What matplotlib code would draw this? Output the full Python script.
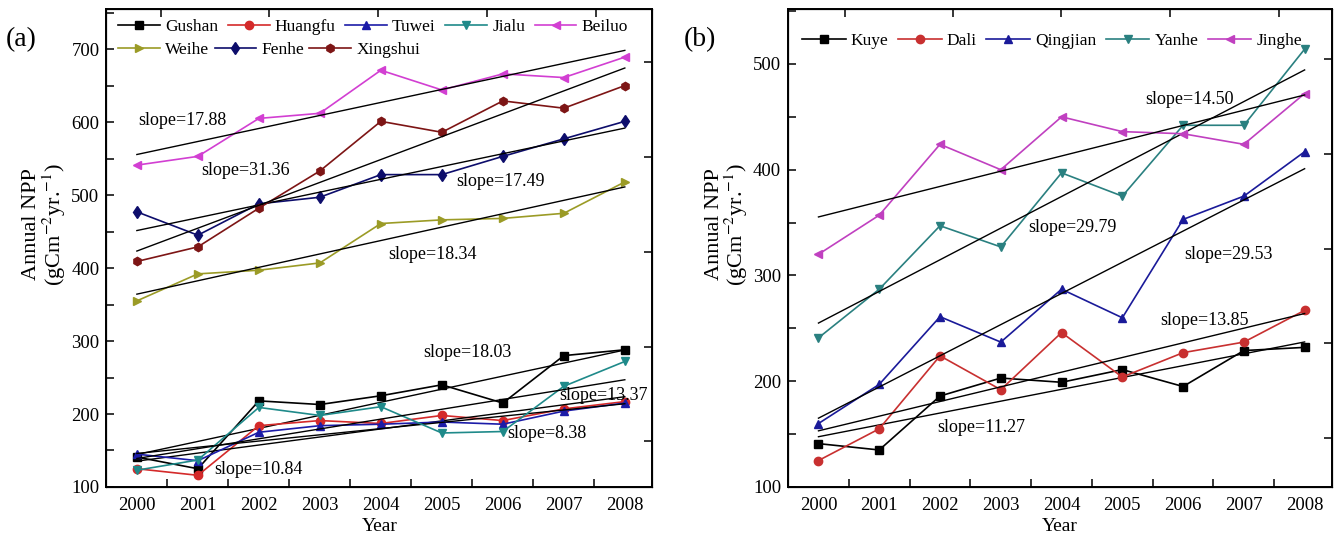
import numpy as np
import matplotlib
matplotlib.use('Agg')
import matplotlib.pyplot as plt
from matplotlib.ticker import MultipleLocator, NullFormatter

plt.rcParams['font.family'] = ['Liberation Serif', 'DejaVu Serif']
plt.rcParams['mathtext.fontset'] = 'stix'

years = np.arange(2000, 2009)

# (a) panel data
left_names = ['Gushan', 'Huangfu', 'Tuwei', 'Jialu', 'Beiluo', 'Weihe', 'Fenhe', 'Xingshui']
gushan = [141, 125, 218, 213, 225, 240, 215, 280, 288]
huangfu = [125, 116, 184, 191, 187, 198, 191, 207, 217]
tuwei = [145, 136, 175, 184, 186, 189, 186, 204, 215]
jialu = [123, 137, 209, 198, 210, 174, 176, 238, 272]
beiluo = [541, 553, 605, 612, 671, 644, 666, 661, 689]
weihe = [355, 392, 397, 407, 461, 466, 468, 475, 518]
fenhe = [477, 445, 488, 497, 528, 528, 553, 577, 601]
xingshui = [409, 429, 482, 533, 601, 586, 629, 619, 650]
left_values = [gushan, huangfu, tuwei, jialu, beiluo, weihe, fenhe, xingshui]
left_colors = ['black', '#d42a2a', '#1c1ca8', '#1f8a8a', '#d23fd2', '#9b9b26', '#0d0d6b', '#7d1515']
left_markers = ['s', 'o', '^', 'v', '<', '>', 'd', 'h']
left_slopes = ['slope=17.88', 'slope=31.36', 'slope=17.49', 'slope=18.34',
               'slope=18.03', 'slope=13.37', 'slope=8.38', 'slope=10.84']
left_slope_pos = [(2000.02, 602), (2001.06, 533), (2005.23, 519), (2004.12, 419),
                  (2004.69, 284), (2006.92, 226), (2006.07, 173), (2001.27, 124)]

# (b) panel data
right_names = ['Kuye', 'Dali', 'Qingjian', 'Yanhe', 'Jinghe']
kuye = [141, 135, 186, 203, 199, 211, 195, 229, 232]
dali = [125, 155, 224, 192, 246, 204, 227, 237, 267]
qingjian = [160, 197, 261, 237, 287, 260, 353, 375, 417]
yanhe = [241, 287, 347, 327, 397, 375, 442, 442, 514]
jinghe = [320, 357, 424, 400, 450, 436, 434, 424, 472]
right_values = [kuye, dali, qingjian, yanhe, jinghe]
right_colors = ['black', '#c83030', '#1a1a99', '#2a8080', '#c040c0']
right_markers = ['s', 'o', '^', 'v', '<']
right_slopes = ['slope=14.50', 'slope=29.79', 'slope=29.53', 'slope=13.85', 'slope=11.27']
right_slope_pos = [(2005.38, 466), (2003.45, 345), (2006.02, 320), (2005.62, 257), (2001.95, 156)]

fig = plt.figure(figsize=(13.38, 5.42), dpi=100)
ax1 = fig.add_axes([0.0795, 0.1015, 0.4080, 0.8820])
ax2 = fig.add_axes([0.5890, 0.1015, 0.4065, 0.8820])


def draw_panel(ax, names, values, colors, markers):
    handles = []
    for name, v, c, m in zip(names, values, colors, markers):
        v = np.array(v, dtype=float)
        h, = ax.plot(years, v, color=c, marker=m, markersize=6, lw=1.2, label=name)
        handles.append(h)
        k, b = np.polyfit(years, v, 1)
        ax.plot(years, k * years + b, color='black', lw=1.0)
    return handles


def style_axes(ax, ylim, top_ticks, right_ticks):
    ax.set_xlim(1999.5, 2008.45)
    ax.set_ylim(*ylim)
    ax.set_xticks(years)
    ax.set_xticklabels([str(y) for y in years])
    ax.xaxis.set_minor_locator(MultipleLocator(1, offset=0.5))
    ax.yaxis.set_major_locator(MultipleLocator(100))
    ax.yaxis.set_minor_locator(MultipleLocator(50))
    ax.tick_params(axis='x', which='major', length=0, pad=7, labelsize=13.5)
    ax.tick_params(axis='x', which='minor', direction='in', length=6, width=1.1)
    ax.tick_params(axis='y', which='both', direction='in', length=6, width=1.1, labelsize=13.5, pad=5)
    for s in ax.spines.values():
        s.set_linewidth(1.4)
    ax.set_xlabel('Year', fontsize=14, labelpad=3)
    ax.set_ylabel('Annual NPP\n(gCm$^{-2}$yr.$^{-1}$)', fontsize=16, linespacing=0.95)
    # Origin-style linked top / right axes
    axt = ax.twiny()
    axt.set_xlim(ax.get_xlim())
    axt.set_xticks(top_ticks)
    axt.xaxis.set_major_formatter(NullFormatter())
    axt.tick_params(axis='x', direction='in', length=6, width=1.1)
    axr = ax.twinx()
    axr.set_ylim(ax.get_ylim())
    axr.set_yticks(right_ticks)
    axr.yaxis.set_major_formatter(NullFormatter())
    axr.tick_params(axis='y', direction='in', length=6, width=1.1)


# panel (a)
h1 = draw_panel(ax1, left_names, left_values, left_colors, left_markers)
style_axes(ax1, (100, 755), [2000.39, 2002.17, 2003.96, 2005.74, 2007.52],
           [682, 552, 422, 292, 163])
ax1.yaxis.set_label_coords(-0.071, 0.55)
for txt, (x, y) in zip(left_slopes, left_slope_pos):
    ax1.text(x, y, txt, fontsize=13, ha='left', va='center')

leg_a1 = ax1.legend(handles=h1[:5], loc='center left', bbox_to_anchor=(0.022, 0.963),
                    ncol=5, frameon=False, fontsize=12.5, handlelength=2.4, handletextpad=0.3,
                    columnspacing=0.55, borderpad=0, borderaxespad=0)
ax1.add_artist(leg_a1)
ax1.legend(handles=h1[5:], loc='center left', bbox_to_anchor=(0.022, 0.915),
           ncol=3, frameon=False, fontsize=12.5, handlelength=2.4, handletextpad=0.3,
           columnspacing=0.3, borderpad=0, borderaxespad=0)

# panel (b)
h2 = draw_panel(ax2, right_names, right_values, right_colors, right_markers)
style_axes(ax2, (100, 552), [2000.43, 2002.21, 2003.99, 2005.79, 2007.58],
           [504.7, 415, 325, 236, 146])
ax2.yaxis.set_label_coords(-0.07, 0.55)
for txt, (x, y) in zip(right_slopes, right_slope_pos):
    ax2.text(x, y, txt, fontsize=13, ha='left', va='center')
ax2.legend(handles=h2, loc='center left', bbox_to_anchor=(0.026, 0.933),
           ncol=5, frameon=False, fontsize=12.5, handlelength=2.5, handletextpad=0.3,
           columnspacing=0.55, borderpad=0, borderaxespad=0)

fig.text(0.016, 0.926, '(a)', fontsize=20, ha='center', va='center')
fig.text(0.523, 0.926, '(b)', fontsize=20, ha='center', va='center')

fig.savefig('out.png', dpi=100)
